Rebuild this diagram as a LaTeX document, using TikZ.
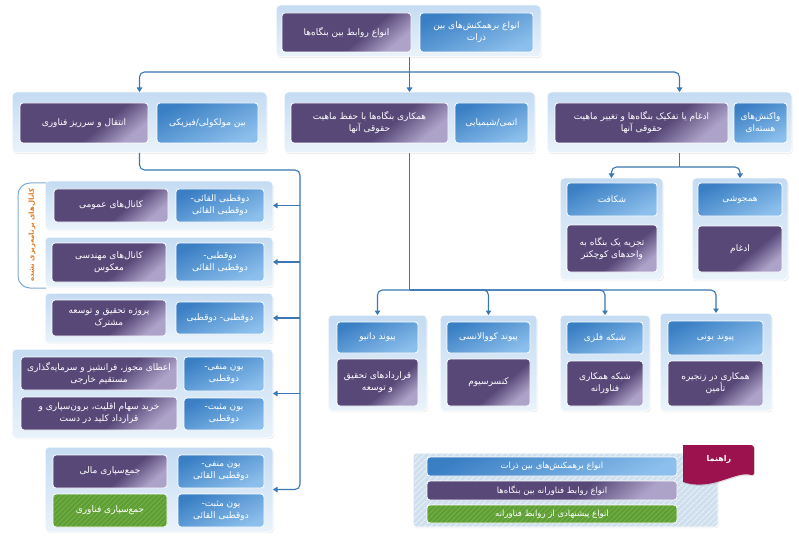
\documentclass[tikz,border=0pt]{standalone}
\usepackage{fontspec}
\newfontfamily\arabicfont[Script=Arabic]{DejaVu Sans}
\TeXXeTstate=1
\usetikzlibrary{arrows.meta,shadows,patterns.meta}
\definecolor{blueD}{HTML}{3A7FC4}
\definecolor{blueL}{HTML}{8CBFEC}
\definecolor{purpD}{HTML}{574878}
\definecolor{purpL}{HTML}{ADA2C8}
\definecolor{greenD}{HTML}{5F9E35}
\definecolor{greenL}{HTML}{74B049}
\definecolor{panT}{HTML}{C4DBF2}
\definecolor{panB}{HTML}{EAF3FB}
\definecolor{connc}{HTML}{3A77B3}
\definecolor{tagc}{HTML}{9C124E}
\definecolor{brc}{HTML}{7FAAD6}
\definecolor{orng}{HTML}{E07A22}
\definecolor{lgfill}{HTML}{CFDFED}
\definecolor{lgline}{HTML}{EAF2F9}
\pgfdeclareverticalshading{bluesh}{100bp}{color(0bp)=(blueL); color(25bp)=(blueL); color(75bp)=(blueD); color(100bp)=(blueD)}
\pgfdeclareverticalshading{purpsh}{100bp}{color(0bp)=(purpL); color(25bp)=(purpL); color(42bp)=(purpD); color(100bp)=(purpD)}
\newcommand\fa[1]{\beginR #1\endR}
\newcommand\bx[7]{\node[#1,minimum width={(#5)-(#3)},minimum height={(#6)-(#4)}] (#2) at ({((#3)+(#5))/2},{((#4)+(#6))/2}) {#7};}
\begin{document}
\begin{tikzpicture}[x=1pt,y=-1pt,
  panel/.style={draw=white, line width=1pt, rounded corners=4pt, top color=panT, bottom color=panB,
    drop shadow={opacity=0.18,shadow xshift=0.8pt,shadow yshift=-1.2pt}, outer sep=0pt, inner sep=0pt},
  box/.style={draw=white, line width=0.8pt, rounded corners=3pt, outer sep=0pt, inner sep=1pt,
    text=white, align=center, font=\arabicfont\fontsize{9}{12}\selectfont},
  bluebox/.style={box, shade, shading=bluesh, shading angle=25},
  purpbox/.style={box, shade, shading=purpsh, shading angle=40},
  greenbox/.style={box, preaction={fill=greenD}, pattern={Lines[angle=45,distance=3.5pt,line width=0.9pt]}, pattern color=greenL},
  lgpanel/.style={draw=white, line width=1pt, rounded corners=3pt,
    drop shadow={opacity=0.18,shadow xshift=0.8pt,shadow yshift=-1.2pt},
    preaction={fill=lgfill}, pattern={Lines[angle=45,distance=4pt,line width=1pt]}, pattern color=lgline, outer sep=0pt, inner sep=0pt},
  lgbar/.style={font=\arabicfont\fontsize{8.5}{9}\selectfont},
  conn/.style={draw=connc, line width=1.1pt, rounded corners=5pt, -{Triangle[length=4.5pt,width=5.5pt]}},
  line/.style={draw=connc, line width=1.1pt}
]
\useasboundingbox (0,0) rectangle (799,537);
\fill[white] (0,0) rectangle (799,537);

% top
\bx{panel}{tp}{276}{5}{541}{57}{}
\bx{purpbox}{tpu}{282}{13}{411}{52}{\fa{انواع روابط بین بنگاه‌ها}}
\bx{bluebox}{tbl}{420}{13}{533}{52}{\fa{انواع برهمکنش‌های بین}\\\fa{ذرات}}

% level 2
\bx{panel}{lp}{12}{92}{267}{153}{}
\bx{purpbox}{lpu}{20}{103}{148}{143}{\fa{انتقال و سرریز فناوری}}
\bx{bluebox}{lbl}{157}{103}{258}{143}{\fa{بین مولکولی/فیزیکی}}

\bx{panel}{mp}{284}{92}{535}{153}{}
\bx{purpbox}{mpu}{291}{103}{448}{143}{\fa{همکاری بنگاه‌ها با حفظ ماهیت}\\\fa{حقوقی آنها}}
\bx{bluebox}{mbl}{455}{103}{528}{143}{\fa{اتمی/شیمیایی}}

\bx{panel}{rp}{547}{92}{792}{153}{}
\bx{purpbox}{rpu}{555}{103}{728}{143}{\fa{ادغام یا تفکیک بنگاه‌ها و تغییر ماهیت}\\\fa{حقوقی آنها}}
\bx{bluebox}{rbl}{734}{103}{787}{143}{\fa{واکنش‌های}\\\fa{هسته‌ای}}

% left column
\bx{panel}{p1}{45}{181}{273}{230}{}
\bx{purpbox}{pu1}{54}{189}{168}{222}{\fa{کانال‌های عمومی}}
\bx{bluebox}{pb1}{176}{189}{264}{222}{\fa{دوقطبی القائی-}\\\fa{دوقطبی القائی}}

\bx{panel}{p2}{45}{237}{273}{287}{}
\bx{purpbox}{pu2}{52}{243}{166}{282}{\fa{کانال‌های مهندسی}\\\fa{معکوس}}
\bx{bluebox}{pb2}{176}{243}{264}{281}{\fa{دوقطبی-}\\\fa{دوقطبی القائی}}

\bx{panel}{p3}{45}{293}{273}{343}{}
\bx{purpbox}{pu3}{52}{300}{166}{336}{\fa{پروژه تحقیق و توسعه}\\\fa{مشترک}}
\bx{bluebox}{pb3}{176}{302}{264}{334}{\fa{دوقطبی- دوقطبی}}

\bx{panel}{p4}{12}{349}{273}{438}{}
\bx{purpbox}{pu4a}{21}{357}{177}{390}{\fa{اعطای مجوز، فرانشیز و سرمایه‌گذاری}\\\fa{مستقیم خارجی}}
\bx{purpbox}{pu4b}{21}{397}{177}{430}{\fa{خرید سهام اقلیت، برون‌سپاری و}\\\fa{قرارداد کلید در دست}}
\bx{bluebox}{pb4a}{184}{357}{264}{391}{\fa{یون منفی-}\\\fa{دوقطبی}}
\bx{bluebox}{pb4b}{184}{398}{264}{430}{\fa{یون مثبت-}\\\fa{دوقطبی}}

\bx{panel}{p5}{45}{447}{273}{532}{}
\bx{purpbox}{pu5}{53}{455}{167}{488}{\fa{جمع‌سپاری مالی}}
\bx{greenbox}{pg5}{53}{494}{167}{527}{\fa{جمع‌سپاری فناوری}}
\bx{bluebox}{pb5a}{178}{455}{264}{488}{\fa{یون منفی-}\\\fa{دوقطبی القائی}}
\bx{bluebox}{pb5b}{178}{494}{264}{527}{\fa{یون مثبت-}\\\fa{دوقطبی القائی}}

% bracket
\draw[brc, line width=1pt, rounded corners=12pt] (46,183) -- (18,183) -- (18,288) -- (46,288);
\node[rotate=90, text=orng, font=\arabicfont\bfseries\fontsize{7}{8}\selectfont] (brtxt) at (32,235) {\fa{کانال‌های برنامه‌ریزی نشده}};

% right sub panels
\bx{panel}{fis}{560}{178}{663}{280}{}
\bx{bluebox}{fisb}{567}{183}{657}{216}{\fa{شکافت}}
\bx{purpbox}{fisu}{567}{225}{657}{272}{\fa{تجزیه یک بنگاه به}\\\fa{واحدهای کوچکتر}}
\bx{panel}{fus}{692}{178}{788}{280}{}
\bx{bluebox}{fusb}{698}{183}{782}{216}{\fa{همجوشی}}
\bx{purpbox}{fusu}{698}{226}{782}{272}{\fa{ادغام}}

% bottom middle panels
\bx{panel}{b1}{328}{315}{427}{411}{}
\bx{bluebox}{b1b}{337}{322}{418}{353}{\fa{پیوند داتیو}}
\bx{purpbox}{b1u}{337}{359}{418}{406}{\fa{قراردادهای تحقیق}\\\fa{و توسعه}}
\bx{panel}{b2}{440}{315}{537}{411}{}
\bx{bluebox}{b2b}{447}{322}{530}{353}{\fa{پیوند کووالانسی}}
\bx{purpbox}{b2u}{447}{359}{530}{406}{\fa{کنسرسیوم}}
\bx{panel}{b3}{560}{315}{650}{411}{}
\bx{bluebox}{b3b}{567}{322}{643}{354}{\fa{شبکه فلزی}}
\bx{purpbox}{b3u}{567}{361}{643}{406}{\fa{شبکه همکاری}\\\fa{فناورانه}}
\bx{panel}{b4}{660}{313}{772}{411}{}
\bx{bluebox}{b4b}{668}{321}{763}{355}{\fa{پیوند یونی}}
\bx{purpbox}{b4u}{668}{361}{763}{406}{\fa{همکاری در زنجیره}\\\fa{تأمین}}

% legend
\bx{lgpanel}{lg}{413}{453}{718}{527}{}
\bx{bluebox,lgbar}{lgb}{427}{457}{677}{476}{\fa{انواع برهمکنش‌های بین ذرات}}
\bx{purpbox,lgbar}{lgp}{427}{481}{677}{500}{\fa{انواع روابط فناورانه بین بنگاه‌ها}}
\bx{greenbox,lgbar}{lgg}{427}{505}{677}{523}{\fa{انواع پیشنهادی از روابط فناورانه}}
\path[fill=tagc, rounded corners=3pt, drop shadow={opacity=0.25,shadow xshift=0.8pt,shadow yshift=-1.2pt}]
  (683,445) -- (754,445) -- (754,476) [sharp corners] .. controls (736,470) and (712,492) .. (683,482) -- cycle;
\node[text=white, font=\arabicfont\bfseries\fontsize{8}{9}\selectfont] (tagtxt) at (719,459) {\fa{راهنما}};

% connectors
\coordinate (h72) at (0,72);
\coordinate (h167) at (0,167);
\coordinate (h290) at (0,290);
\coordinate (lv) at (300,170);
\draw[conn] (mp.north |- tp.south) -- (mp.north);
\draw[conn] (mp.north |- h72) -| (lp.north);
\draw[conn] (mp.north |- h72) -| ([xshift=10pt]rp.north);

\draw[conn] (lp.south) |- (lv) -- (lv |- p5.east) -- (p5.east);
\foreach \q in {p1,p2,p3,p4} {\draw[conn] (lv |- \q.east) -- (\q.east);}

\draw[line] ([xshift=10pt]rp.south) -- ([xshift=10pt]rp.south |- h167);
\draw[conn] ([xshift=10pt]rp.south |- h167) -| (fis.north);
\draw[conn] ([xshift=10pt]rp.south |- h167) -| (fus.north);

\draw[line] (mp.south) -- (mp.south |- h290);
\foreach \q in {b1,b2,b3,b4} {\draw[conn] (mp.south |- h290) -| (\q.north);}
\end{tikzpicture}
\end{document}
